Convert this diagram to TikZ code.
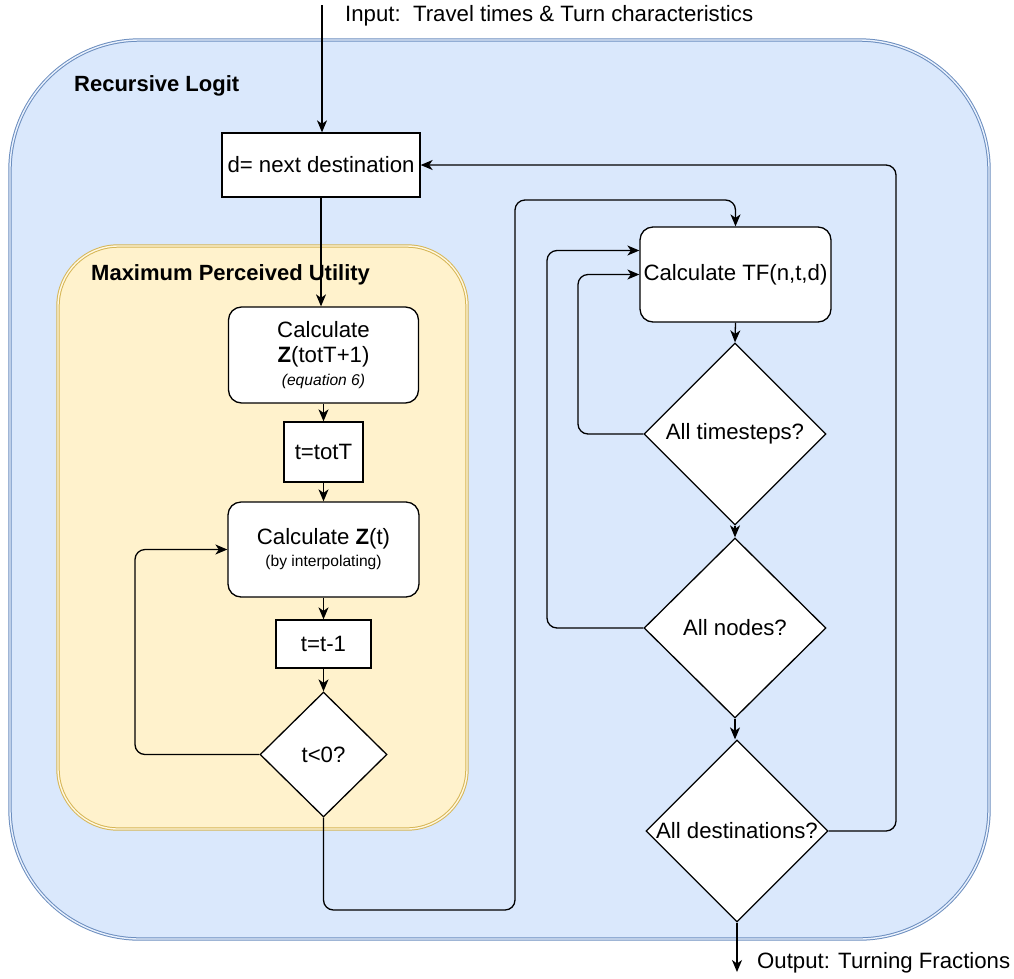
\documentclass[tikz,border=0pt]{standalone}
\usepackage{fontspec}
\setmainfont{Liberation Sans}
\usetikzlibrary{arrows.meta,shapes.geometric,calc}
\definecolor{bluefill}{HTML}{DAE8FC}
\definecolor{blueline}{HTML}{6C8EBF}
\definecolor{yelfill}{HTML}{FFF2CC}
\definecolor{yelline}{HTML}{D6B656}
\tikzset{
  big/.style={font=\fontsize{22.2}{26}\selectfont},
  container/.style={line width=1pt, double distance=1.4pt},
  procbox/.style={draw, fill=white, line width=1.3pt, inner sep=0pt, align=center, big},
  roundbox/.style={procbox, rounded corners=13pt},
  decision/.style={draw, fill=white, line width=1.3pt, shape=diamond, inner sep=-4pt, aspect=1, align=center, big},
  conn/.style={line width=1.3pt, rounded corners=10pt, -{Stealth[length=12pt,width=10pt,inset=3.5pt]}},
  title/.style={font=\fontsize{22}{26}\selectfont\bfseries, anchor=west, inner sep=0pt},
  note/.style={big, anchor=west, inner sep=0pt}
}
\begin{document}
\begin{tikzpicture}[x=1pt,y=-1pt]
\useasboundingbox (0,0) rectangle (1014,978);
% containers
\draw[container, draw=blueline, double=white!40!bluefill, fill=bluefill, rounded corners=130pt] (10,40) rectangle (989,939);
\node[title] (rl) at (74,86) {Recursive Logit};
\draw[container, draw=yelline, double=white!40!yelfill, fill=yelfill, rounded corners=60pt] (58,246) rectangle (467,829);
\node[title] (mpu) at (91,275) {Maximum Perceived Utility};

% nodes
\node[procbox, minimum width=198pt, minimum height=64pt] (d) at (321,165) {d= next destination};
\node[roundbox, minimum width=190pt, minimum height=96pt] (zA) at (323.5,355)
  {Calculate\\[-1pt] \textbf{Z}(totT+1)\\[-3pt] {\fontsize{15.6}{18}\selectfont\itshape (equation 6)}};
\node[procbox, minimum width=79pt, minimum height=60pt] (tT) at (323.5,452) {t=totT};
\node[roundbox, minimum width=191pt, minimum height=95pt] (zB) at (323.5,549.5)
  {Calculate \textbf{Z}(t)\\[-4pt] {\fontsize{15.6}{18}\selectfont (by interpolating)}};
\node[procbox, minimum width=95pt, minimum height=48pt] (tm) at (323.5,644) {t=t-1};
\node[decision, minimum width=127pt, minimum height=125pt] (lt) at (323.5,754.5) {t\textless0?};

\node[roundbox, minimum width=191pt, minimum height=95pt] (tf) at (735.5,274.5) {Calculate TF(n,t,d)};
\node[decision, minimum width=182pt, minimum height=182pt] (ts) at (735,434) {All timesteps?};
\node[decision, minimum width=182pt, minimum height=180pt] (nd) at (735,628) {All nodes?};
\node[decision, minimum width=182pt, minimum height=182pt] (de) at (737,831) {All destinations?};

% input / output
\coordinate (in) at (322,5);
\node[note] (inlbl) at (345,16) {Input:\ \ Travel times \& Turn characteristics};
\coordinate (out) at (737,972);
\node[note] (outlbl) at (757,963) {Output: Turning Fractions};

% connectors
\draw[conn] (in) -- (in |- d.north);
\draw[conn] (d.south) -- (d.south |- zA.north);
\draw[conn] (zA.south) -- (tT.north);
\draw[conn] (tT.south) -- (zB.north);
\draw[conn] (zB.south) -- (tm.north);
\draw[conn] (tm.south) -- (lt.north);
\draw[conn] (lt.west) -- (135,754.5) |- (zB.west);
\draw[conn] (lt.south) -- (323.5,910) -- (515,910) -- (515,200) -| (tf.north);
\draw[conn] (tf.south) -- (ts.north);
\draw[conn] (ts.south) -- (nd.north);
\draw[conn] (nd.south) -- (nd.south |- de.north);
\draw[conn] (ts.west) -- (578,434) |- (tf.west);
\draw[conn] (nd.west) -- (547,628) |- ($(tf.west)+(0,-24)$);
\draw[conn] (de.east) -- (896,831) |- (d.east);
\draw[conn] (de.south) -- (out);
\end{tikzpicture}
\end{document}
